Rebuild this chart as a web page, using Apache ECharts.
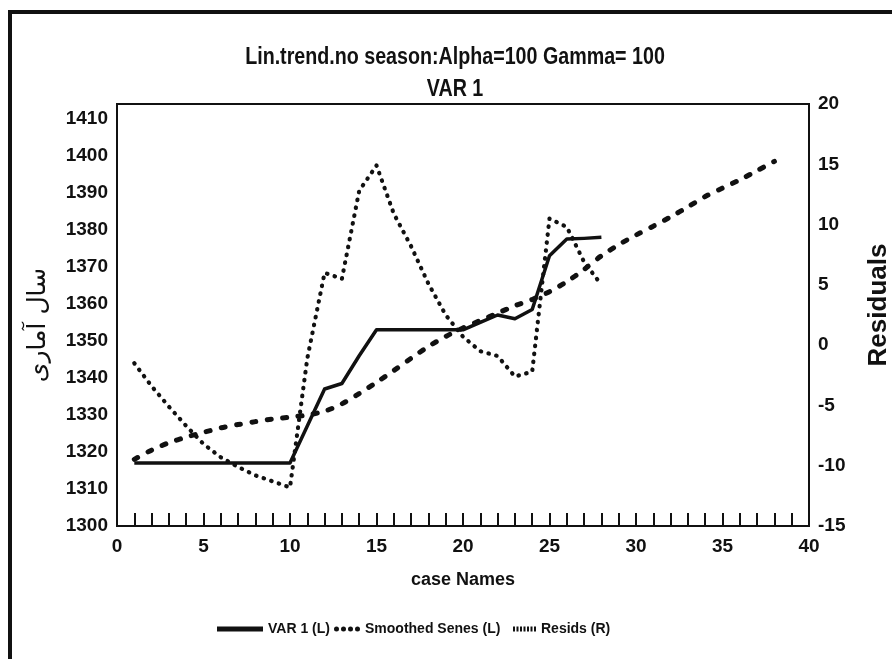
<!DOCTYPE html>
<html>
<head>
<meta charset="utf-8">
<script src="https://cdn.jsdelivr.net/npm/echarts@6/dist/echarts.min.js"></script>
<style>
html,body{margin:0;padding:0;background:#fff;}
#chart{width:892px;height:659px;}
</style>
</head>
<body>
<div id="chart"></div>
<script>
// ---- data ----
const titleText = 'Lin.trend.no season:Alpha=100 Gamma= 100';
const subtitleText = 'VAR 1';
const xAxisName = 'case Names';
const leftAxisName = 'سال آماری';
const rightAxisName = 'Residuals';
const seriesNames = ['VAR 1 (L)', 'Smoothed Senes (L)', 'Resids (R)'];

const var1Cases = [1,2,3,4,5,6,7,8,9,10,11,12,13,14,15,16,17,18,19,20,21,22,23,24,25,26,27,28];
const var1Values = [1317,1317,1317,1317,1317,1317,1317,1317,1317,1317,1327,1337,1338.5,1346,1353,1353,1353,1353,1353,1353,1355,1357,1356,1358.5,1373,1377.5,1377.7,1378];

const smoothCases = [1,2,3,4,5,6,7,8,9,10,11,12,13,14,15,16,17,18,19,20,21,22,23,24,25,26,27,28,29,30,31,32,33,34,35,36,37,38];
const smoothValues = [1318,1320.5,1322.5,1324,1325.3,1326.5,1327.4,1328.2,1328.9,1329.4,1330,1331,1333,1335.8,1338.8,1342,1345.3,1348.5,1351.2,1353.5,1355.5,1357.5,1359.5,1361.2,1363.3,1366,1369.3,1373,1376,1378.6,1381,1383.5,1386.2,1389,1391.3,1393.5,1396,1398.5];

const residCases = [1,2,3,4,5,6,7,8,9,10,11,12,13,14,15,16,17,18,19,20,21,22,23,24,25,26,27,28];
const residValues = [-1.5,-3.4,-5.1,-6.7,-8.2,-9.3,-10.1,-10.8,-11.3,-11.8,-1.1,6.0,5.5,12.8,14.9,10.9,8.2,5.1,2.5,0.7,-0.5,-0.9,-2.6,-2.2,10.5,9.8,6.9,5.0];

const xTicks = [0,5,10,15,20,25,30,35,40];
const leftTicks = [1300,1310,1320,1330,1340,1350,1360,1370,1380,1390,1400,1410];
const rightTicks = [-15,-10,-5,0,5,10,15,20];

// ---- chart ----
const SANS = "'Liberation Sans',Arial,sans-serif";
const INK = '#111';
const pair = (xs, ys) => xs.map((x, i) => [x, ys[i]]);

const chart = echarts.init(document.getElementById('chart'), null, {renderer: 'canvas'});

const dotIcon = 'path://' + [0,7,14,21].map(x => `M${x},2.5a2.5,2.5 0 1,0 5,0a2.5,2.5 0 1,0 -5,0`).join(' ');
const fineIcon = 'path://' + [0,3.5,7,10.5,14,17.5,21].map(x => `M${x},0h2v5h-2z`).join(' ');

const legendBase = {
  orient: 'horizontal',
  top: 617,
  itemTextGap: 4,
  textStyle: {fontFamily: SANS, fontWeight: 'bold', fontSize: 14, color: INK},
  itemStyle: {borderWidth: 0},
  selectedMode: false
};

chart.setOption({
  backgroundColor: '#fff',
  animation: false,
  graphic: [
    {type: 'line', shape: {x1: 8, y1: 12, x2: 892, y2: 12}, style: {stroke: INK, lineWidth: 4}},
    {type: 'line', shape: {x1: 10, y1: 10, x2: 10, y2: 659}, style: {stroke: INK, lineWidth: 4}},
    {type: 'text', x: 455, y: 58, scaleX: 0.855, style: {text: titleText, fontFamily: SANS, fontWeight: 'bold', fontSize: 23, fill: INK, align: 'center', verticalAlign: 'middle'}},
    {type: 'text', x: 455, y: 90, scaleX: 0.855, style: {text: subtitleText, fontFamily: SANS, fontWeight: 'bold', fontSize: 23, fill: INK, align: 'center', verticalAlign: 'middle'}}
  ],
  legend: [
    Object.assign({}, legendBase, {left: 212, data: [{name: seriesNames[0], icon: 'rect'}], itemWidth: 46, itemHeight: 5}),
    Object.assign({}, legendBase, {left: 329, itemTextGap: 2, data: [{name: seriesNames[1], icon: dotIcon}], itemWidth: 26, itemHeight: 5}),
    Object.assign({}, legendBase, {left: 508, data: [{name: seriesNames[2], icon: fineIcon}], itemWidth: 23, itemHeight: 5})
  ],
  grid: {left: 117, right: 83, top: 104, bottom: 133, show: true, borderColor: INK, borderWidth: 2, containLabel: false, outerBoundsMode: 'none'},
  xAxis: {
    type: 'value', min: xTicks[0], max: xTicks[xTicks.length - 1], interval: 5,
    name: xAxisName, nameLocation: 'middle', nameGap: 45,
    nameTextStyle: {fontFamily: SANS, fontWeight: 'bold', fontSize: 18, color: INK},
    axisLine: {show: true, onZero: false, lineStyle: {color: INK, width: 2}},
    axisTick: {show: true, inside: true, length: 13, lineStyle: {color: INK, width: 2}},
    minorTick: {show: true, splitNumber: 5, length: 13, lineStyle: {color: INK, width: 2}},
    splitLine: {show: false},
    axisLabel: {margin: 11, fontFamily: SANS, fontWeight: 'bold', fontSize: 19, color: INK}
  },
  yAxis: [
    {
      type: 'value', min: leftTicks[0], max: 1414, interval: 10, position: 'left',
      name: leftAxisName, nameLocation: 'middle', nameGap: 66, nameRotate: 90,
      nameTextStyle: {fontFamily: "'DejaVu Sans',sans-serif", fontSize: 25, color: INK, padding: [0, 20, 0, 0]},
      axisLine: {show: true, onZero: false, lineStyle: {color: INK, width: 2}},
      axisTick: {show: false},
      splitLine: {show: false},
      axisLabel: {margin: 9, fontFamily: SANS, fontWeight: 'bold', fontSize: 19, color: INK,
        formatter: v => leftTicks.indexOf(v) >= 0 ? String(v) : ''}
    },
    {
      type: 'value', min: rightTicks[0], max: rightTicks[rightTicks.length - 1], interval: 5, position: 'right',
      name: rightAxisName, nameLocation: 'middle', nameGap: 57, nameRotate: 90,
      nameTextStyle: {fontFamily: SANS, fontWeight: 'bold', fontSize: 26, color: INK, padding: [0, 0, 0, 20]},
      axisLine: {show: true, onZero: false, lineStyle: {color: INK, width: 2}},
      axisTick: {show: false},
      splitLine: {show: false},
      axisLabel: {margin: 9, fontFamily: SANS, fontWeight: 'bold', fontSize: 19, color: INK}
    }
  ],
  series: [
    {
      name: seriesNames[0], type: 'line', yAxisIndex: 0, data: pair(var1Cases, var1Values),
      symbol: 'none', color: INK,
      lineStyle: {color: INK, width: 3.5, join: 'round'}
    },
    {
      name: seriesNames[1], type: 'line', yAxisIndex: 0, data: pair(smoothCases, smoothValues),
      symbol: 'none', color: INK, smooth: 0.3,
      lineStyle: {color: INK, width: 5, type: [4, 11.5], cap: 'round'}
    },
    {
      name: seriesNames[2], type: 'line', yAxisIndex: 1, data: pair(residCases, residValues),
      symbol: 'none', color: INK,
      lineStyle: {color: INK, width: 4.2, type: [0.5, 7.5], cap: 'round', join: 'round'}
    }
  ]
});
</script>
</body>
</html>
